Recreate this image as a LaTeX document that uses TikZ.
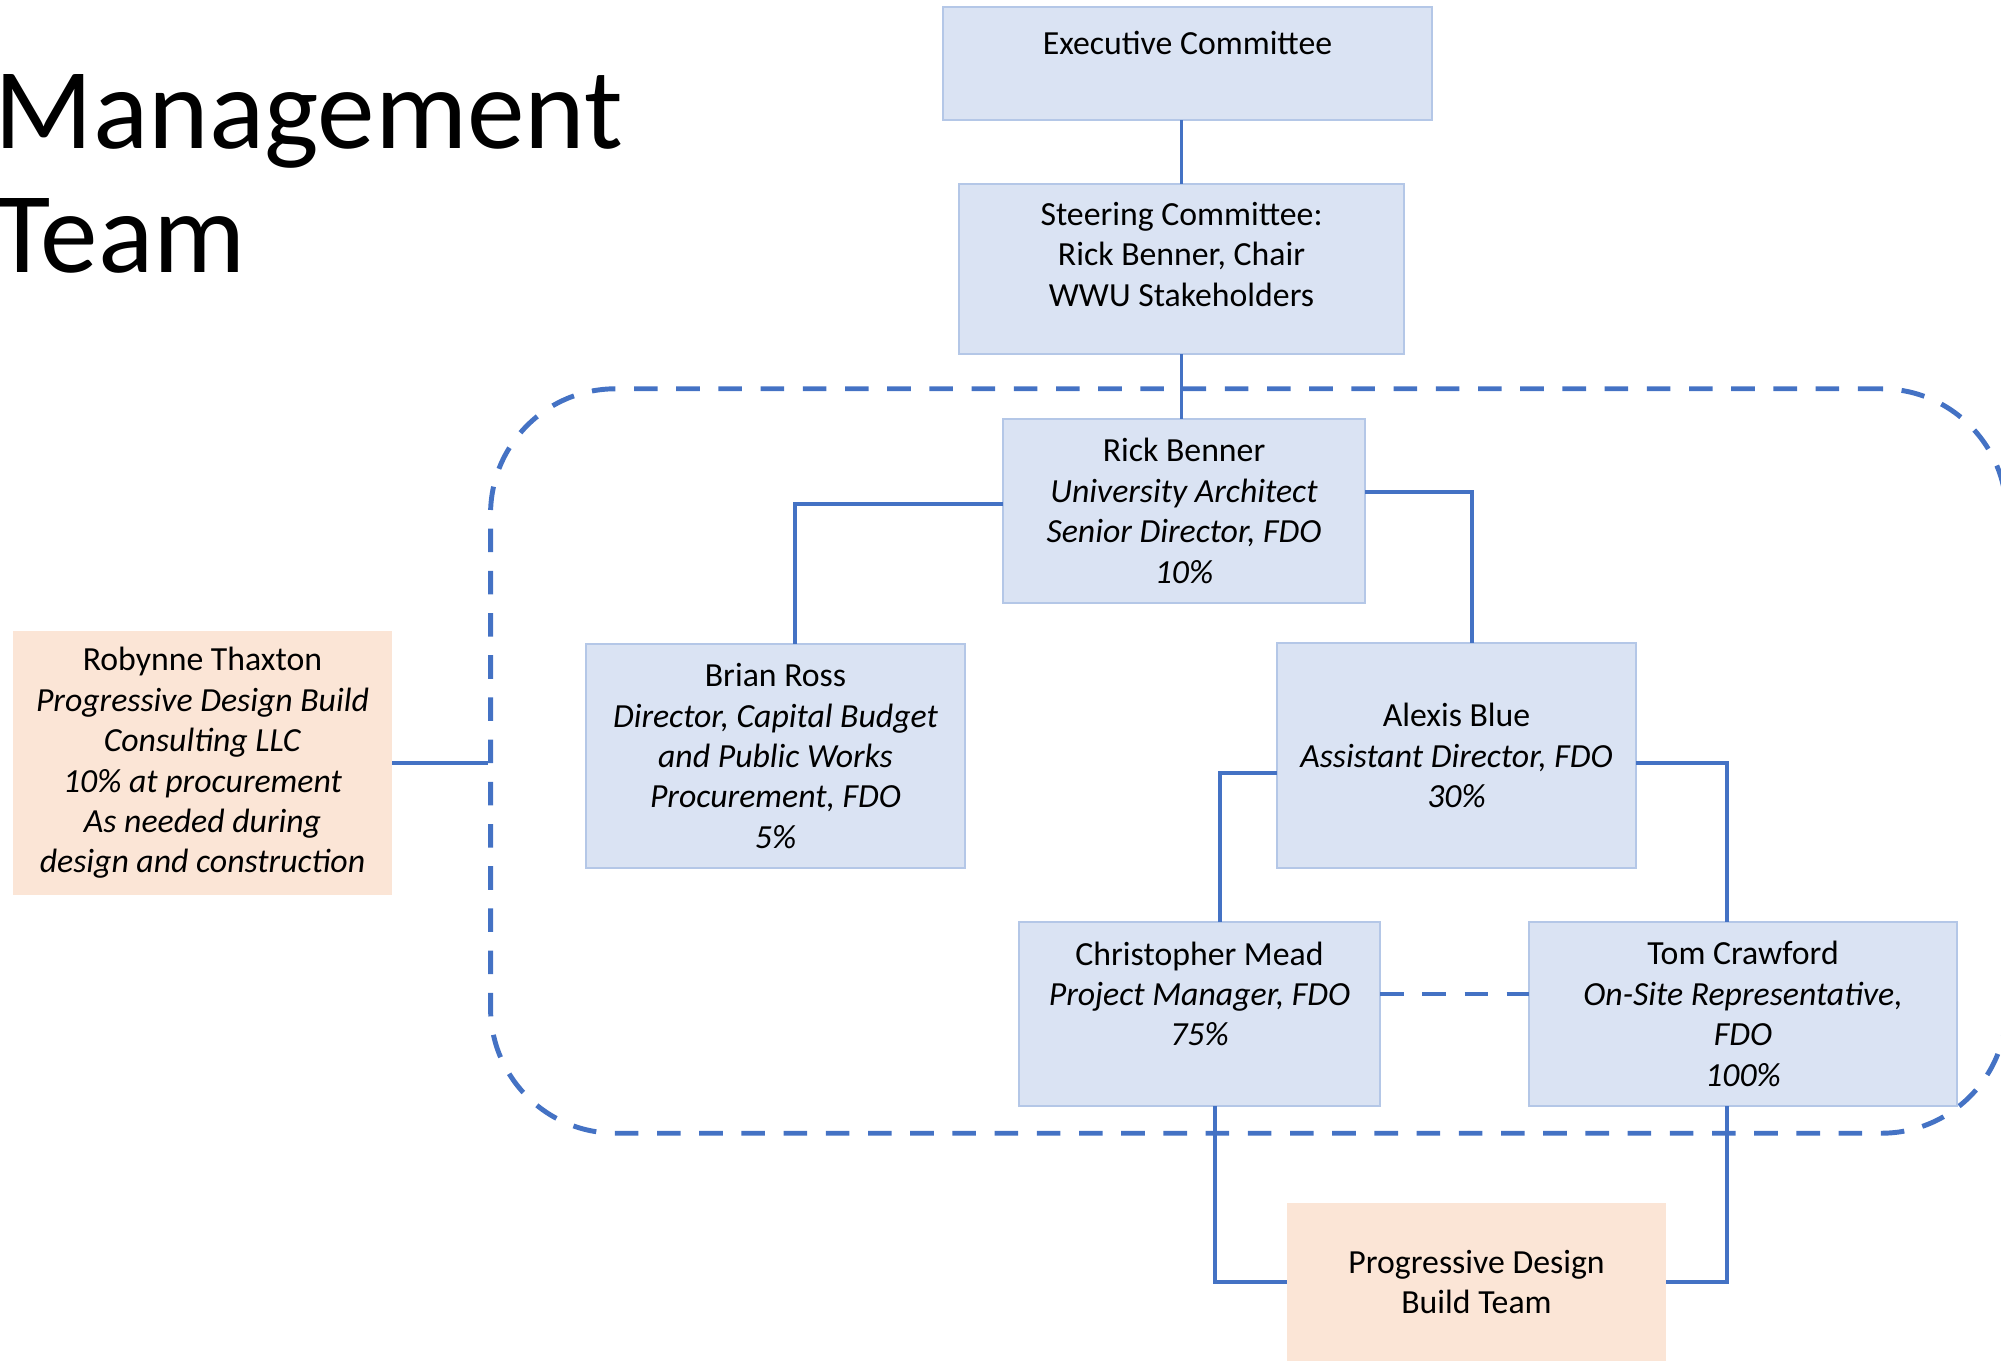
\documentclass[tikz,border=0pt]{standalone}
\usepackage{fontspec}
\setmainfont{Carlito}
\usetikzlibrary{positioning}
\usetikzlibrary{calc}

\definecolor{boxfill}{HTML}{DAE3F3}
\definecolor{boxline}{HTML}{B4C7E7}
\definecolor{extfill}{HTML}{FBE5D6}
\definecolor{linkblue}{HTML}{4472C4}

\newcommand{\boxfont}{\fontsize{9.6pt}{11.5pt}\selectfont}

\begin{document}
\begin{tikzpicture}[x=0.01cm, y=-0.01cm,
  box/.style={draw=boxline, line width=0.5pt, fill=boxfill, inner sep=0pt, outer sep=0pt, align=center, font=\boxfont},
  ext/.style={box, draw=none, fill=extfill},
  link/.style={draw=linkblue, line width=0.9pt},
  dashlink/.style={draw=linkblue, line width=1.4pt, dash pattern=on 6.7pt off 5.3pt}]
\useasboundingbox (0,0) rectangle (2001,1361);

% heading (base anchor sits on the last line)
\node (title) [anchor=base west, align=left, inner sep=0pt, font=\fontsize{32.8pt}{35.5pt}\selectfont] at (-6,273) {Management\\Team};

% dashed frame round the FDO team
\node (team) [dashlink, rounded corners=1.25cm, minimum width=15.15cm, minimum height=7.44cm, inner sep=0pt] at (1248.5,761) {};

\node (exec) [box, minimum width=4.89cm, minimum height=1.13cm] at (1187.5,63.5) {Executive Committee\\ ~};
\node (steer) [box, minimum width=4.45cm, minimum height=1.70cm] at (1181.5,269) {Steering Committee:\\Rick Benner, Chair\\WWU Stakeholders\\[-3pt] ~};
\node (rick) [box, minimum width=3.62cm, minimum height=1.84cm] at (1184,511) {Rick Benner\\\textit{University Architect}\\\textit{Senior Director, FDO}\\\textit{10\%}};
\node (brian) [box, minimum width=3.79cm, minimum height=2.24cm] at (775.5,756) {Brian Ross\\\textit{Director, Capital Budget}\\\textit{and Public Works}\\\textit{Procurement, FDO}\\\textit{5\%}};
\node (alexis) [box, minimum width=3.59cm, minimum height=2.25cm] at (1456.5,755.5) {Alexis Blue\\\textit{Assistant Director, FDO}\\\textit{30\%}};
\node (mead) [box, minimum width=3.61cm, minimum height=1.84cm] at (1199.5,1014) {Christopher Mead\\\textit{Project Manager, FDO}\\\textit{75\%}\\ ~};
\node (crawford) [box, minimum width=4.28cm, minimum height=1.84cm] at (1743,1014) {Tom Crawford\\\textit{On-Site Representative,}\\\textit{FDO}\\\textit{100\%}};

% outside parties
\node (thaxton) [ext, minimum width=3.79cm, minimum height=2.64cm] at (202.5,763) {Robynne Thaxton\\\textit{Progressive Design Build}\\\textit{Consulting LLC}\\\textit{10\% at procurement}\\\textit{As needed during}\\\textit{design and construction}};
\node (pdb) [ext, minimum width=3.79cm, minimum height=1.58cm] at (1476.5,1282) {Progressive Design\\Build Team};

% reporting lines
\draw[link] (exec.south -| steer.north) -- (steer.north);
\draw[link] (steer.south) -- (steer.south |- rick.north);
\draw[link] ($(rick.west)+(0,-7)$) -| ($(brian.north)+(19.5,0)$);
\draw[link] ($(rick.east)+(0,-19)$) -| ($(alexis.north)+(15.5,0)$);
\draw[link] ($(alexis.west)+(0,17.5)$) -| ($(mead.north)+(20.5,0)$);
\draw[link] ($(alexis.east)+(0,7.5)$) -| ($(crawford.north)+(-16,0)$);
\draw[link] ($(mead.south)+(15.5,0)$) |- (pdb.west);
\draw[link] ($(crawford.south)+(-16,0)$) |- (pdb.east);
\draw[dashlink] ($(mead.east)+(0,-20)$) -- ($(crawford.west)+(0,-20)$);
\draw[link] (thaxton.east) -- (thaxton.east -| team.west);
\end{tikzpicture}
\end{document}
